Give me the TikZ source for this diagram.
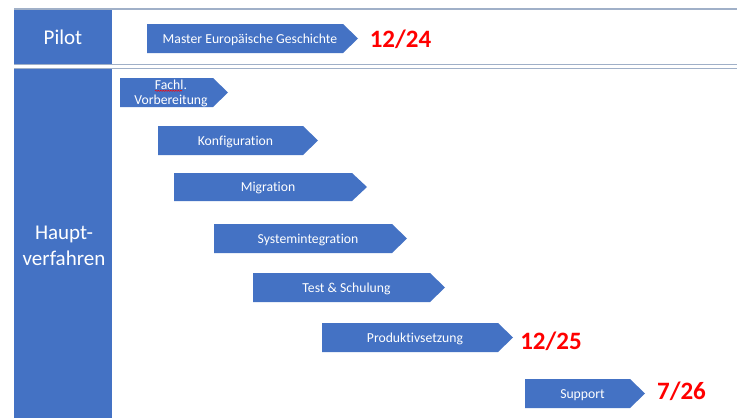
\documentclass[tikz,border=0pt]{standalone}
\usepackage{fontspec}
\setmainfont[Ligatures=NoCommon]{Carlito}
\usetikzlibrary{decorations.pathmorphing}
\definecolor{obl}{RGB}{68,114,196}
\definecolor{lineg}{RGB}{160,176,200}
\definecolor{datered}{RGB}{255,0,0}
\tikzset{
  lanebox/.style={fill=obl,draw=none},
  lanetext/.style={text=white,font=\fontsize{21}{26}\selectfont,align=center,inner sep=0},
  chevfill/.style={fill=obl,draw=none},
  chevtext/.style={text=white,font=\fontsize{13.7}{15}\selectfont,align=center,inner sep=0},
  datetext/.style={text=datered,font=\bfseries\fontsize{25}{25}\selectfont,inner sep=0},
  rule/.style={draw=lineg,line width=1.6pt}
}
% \mychevshape{x1}{x2}{ytop}{ybot}
\newcommand\mychevshape[4]{%
  \fill[chevfill] (#1,#3) -- (#2-15,#3) -- (#2,{(#3+#4)/2}) -- (#2-15,#4) -- (#1,#4) -- cycle;
}
% \mychev{name}{x1}{x2}{ytop}{ybot}{text}
\newcommand\mychev[6]{%
  \mychevshape{#2}{#3}{#4}{#5}
  \node[chevtext] (#1) at ({(#2+#3-5)/2},{(#4+#5)/2+1.2}) {#6};
}
\begin{document}
\begin{tikzpicture}[x=1pt,y=-1pt]
\useasboundingbox (0,0) rectangle (737,418);
\fill[white] (0,0) rectangle (737,418);
% table rules
\coordinate (r1a) at (14,8.8);  \coordinate (r1b) at (737,8.8);
\coordinate (r2a) at (14,64.6); \coordinate (r2b) at (737,64.6);
\coordinate (r3a) at (14,68.6); \coordinate (r3b) at (737,68.6);
\draw[rule] (r1a) -- (r1b);
\draw[rule] (r2a) -- (r2b);
\draw[rule] (r3a) -- (r3b);
% lane boxes
\fill[lanebox] (14,9.5) rectangle (112,64);
\node[lanetext] (pilot) at (63,37) {Pilot};
\fill[lanebox] (14,69.3) rectangle (112,418);
\node[lanetext] (haupt) at (64,245.5) {Haupt-\\verfahren};
% chevrons
\mychev{master}{147}{358}{24}{53}{Master Europäische Geschichte}
\node[datetext] (d1) at (400.5,39.5) {12/24};
\mychevshape{120}{228}{78}{107}
\node[chevtext,anchor=north] (fachl) at (171,79.5) {Fachl.\\Vorbereitung};
\draw[datered,line width=0.5pt,decorate,decoration={snake,amplitude=0.6pt,segment length=2.5pt}] (155,90.8) -- (182,90.8);
\mychev{konf}{158}{318}{126}{155}{Konfiguration}
\mychev{migr}{174}{367}{173}{201}{Migration}
\mychev{sysint}{214}{407}{224}{253}{Systemintegration}
\mychev{test}{253}{445}{273}{302}{Test \& Schulung}
\mychev{prod}{322}{513}{323}{352}{Produktivsetzung}
\node[datetext] (d2) at (551,341) {12/25};
\mychev{supp}{525}{645}{379}{408}{Support}
\node[datetext] (d3) at (681.5,391.5) {7/26};
\end{tikzpicture}
\end{document}
